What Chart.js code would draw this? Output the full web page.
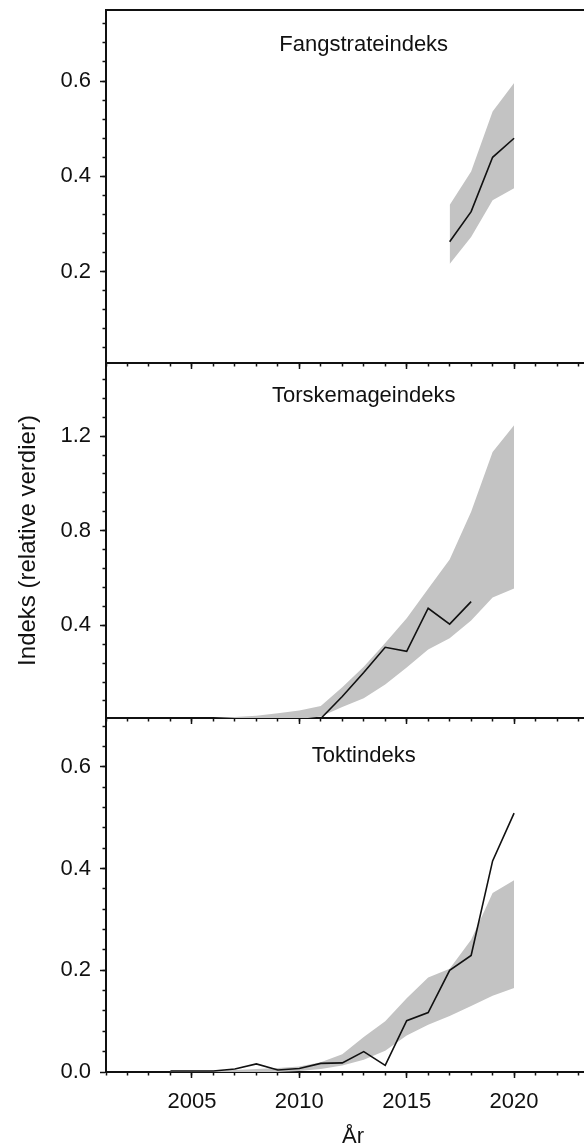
<!DOCTYPE html>
<html lang="no">
<head>
<meta charset="utf-8">
<title>Indeks (relative verdier)</title>
<script src="https://cdn.jsdelivr.net/npm/chart.js@4.4.1/dist/chart.umd.min.js"></script>
<style>
  html, body { margin: 0; padding: 0; background: #fff; overflow: hidden; }
  #wrap { position: relative; width: 584px; height: 1144px; overflow: hidden; }
  #wrap canvas { position: absolute; left: 0; top: 0; }
</style>
</head>
<body>
<div id="wrap">
  <canvas id="p-fang" width="600" height="1160"></canvas>
  <canvas id="p-torsk" width="600" height="1160"></canvas>
  <canvas id="p-tokt" width="600" height="1160"></canvas>
</div>
<script>
// Three stacked index panels, shared year axis.

const FONT = "'Liberation Sans', Arial, sans-serif";
const INK = '#111';
const BAND = '#c3c3c3';
const CANVAS_H = 1160;

const X_MIN = 2001, X_MAX = 2024;
const xLabelTicks = [2005, 2010, 2015, 2020];

// Fangstrateindeks
const fangYears = [2017, 2018, 2019, 2020];
const fangIndex = [0.263, 0.326, 0.44, 0.48];
const fangLow   = [0.216, 0.273, 0.35, 0.375];
const fangHigh  = [0.34, 0.41, 0.536, 0.596];
const fangYTicks = [0.2, 0.4, 0.6];

// Torskemageindeks
const torskYears = [2009, 2010, 2011, 2012, 2013, 2014, 2015, 2016, 2017, 2018];
const torskIndex = [0.003, 0.005, 0.006, 0.099, 0.2, 0.307, 0.29, 0.472, 0.405, 0.5];
const torskBandYears = [2006, 2007, 2008, 2009, 2010, 2011, 2012, 2013, 2014, 2015, 2016, 2017, 2018, 2019, 2020];
const torskLow  = [0, 0, 0, 0.001, 0.004, 0.014, 0.054, 0.092, 0.15, 0.222, 0.298, 0.345, 0.42, 0.518, 0.556];
const torskHigh = [0.008, 0.012, 0.018, 0.028, 0.04, 0.059, 0.138, 0.225, 0.325, 0.43, 0.555, 0.678, 0.88, 1.133, 1.246];
const torskYTicks = [0.4, 0.8, 1.2];

// Toktindeks
const toktYears = [2004, 2005, 2006, 2007, 2008, 2009, 2010, 2011, 2012, 2013, 2014, 2015, 2016, 2017, 2018, 2019, 2020];
const toktIndex = [0.002, 0.002, 0.002, 0.006, 0.016, 0.004, 0.007, 0.017, 0.018, 0.04, 0.013, 0.101, 0.117, 0.2, 0.229, 0.415, 0.509];
const toktLow   = [0, 0, 0, 0, 0, 0, 0.002, 0.006, 0.013, 0.024, 0.042, 0.072, 0.093, 0.11, 0.13, 0.15, 0.165];
const toktHigh  = [0.003, 0.003, 0.003, 0.004, 0.006, 0.008, 0.011, 0.019, 0.035, 0.069, 0.1, 0.145, 0.186, 0.203, 0.26, 0.352, 0.377];
const toktYTicks = [0, 0.2, 0.4, 0.6];

const panels = [
  { id: 'p-fang', title: 'Fangstrateindeks', top: 10, bottom: 363, titleDy: 40.5,
    yMin: 0.0085, yMax: 0.749, yTicks: fangYTicks, yMinorStep: 0.04,
    years: fangYears, index: fangIndex, bandYears: fangYears, low: fangLow, high: fangHigh,
    topBorder: true },
  { id: 'p-torsk', title: 'Torskemageindeks', top: 363, bottom: 718, titleDy: 38.5,
    yMin: 0.008, yMax: 1.509, yTicks: torskYTicks, yMinorStep: 0.08,
    years: torskYears, index: torskIndex, bandYears: torskBandYears, low: torskLow, high: torskHigh,
    yTitle: 'Indeks (relative verdier)' },
  { id: 'p-tokt', title: 'Toktindeks', top: 718, bottom: 1072, titleDy: 44,
    yMin: 0, yMax: 0.696, yTicks: toktYTicks, yMinorStep: 0.04,
    years: toktYears, index: toktIndex, bandYears: toktYears, low: toktLow, high: toktHigh,
    xTitle: 'År' },
];

// panel name written inside the plot box
const panelTitle = {
  id: 'panelTitle',
  afterDraw(chart, args, opts) {
    const { ctx, chartArea, scales } = chart;
    ctx.save();
    ctx.font = `22px ${FONT}`;
    ctx.fillStyle = INK;
    ctx.textAlign = 'center';
    ctx.textBaseline = 'alphabetic';
    ctx.fillText(opts.text, scales.x.getPixelForValue(opts.atYear), chartArea.top + opts.dy);
    ctx.restore();
  },
};

const pts = (xs, ys) => xs.map((x, i) => ({ x, y: ys[i] }));

function minorTicks(min, max, step) {
  const out = [];
  for (let k = Math.ceil(min / step - 1e-9); k * step <= max + 1e-9; k++) {
    if (k * step > min + 1e-9) out.push({ value: +(k * step).toFixed(4) });
  }
  return out;
}

// fixed box sizes; drop the label overhang padding so the plot boxes line up
function fixBox(w, h) {
  return s => {
    if (w != null) s.width = w;
    if (h != null) s.height = h;
    s.paddingTop = s.paddingBottom = s.paddingLeft = s.paddingRight = 0;
  };
}

const tickFont = { family: FONT, size: 22 };
const tickMark = { tickColor: INK, tickWidth: 1.5, drawOnChartArea: false };

function makePanel(p) {
  const scales = {
    x: {
      type: 'linear', position: 'bottom', weight: 1, min: X_MIN, max: X_MAX,
      afterFit: fixBox(null, CANVAS_H - p.bottom),
      afterBuildTicks: s => { s.ticks = xLabelTicks.map(v => ({ value: v })); },
      grid: { ...tickMark, tickLength: 6 },
      border: { color: INK, width: 2 },
      ticks: { display: !!p.xTitle, autoSkip: false, maxRotation: 0, padding: 11,
               color: INK, font: tickFont, callback: v => String(v) },
      title: { display: !!p.xTitle, text: p.xTitle || '', color: INK,
               font: { family: FONT, size: 22 }, padding: { top: 0, bottom: 10 } },
    },
    xMinor: {
      type: 'linear', position: 'bottom', weight: 0, min: X_MIN, max: X_MAX,
      afterFit: fixBox(null, 0),
      afterBuildTicks: s => { s.ticks = minorTicks(X_MIN - 1, X_MAX, 1); },
      grid: { ...tickMark, tickLength: 3.5 },
      border: { display: false },
      ticks: { display: false, autoSkip: false },
    },
    y: {
      type: 'linear', position: 'left', weight: 1, min: p.yMin, max: p.yMax,
      afterFit: fixBox(106, null),
      afterBuildTicks: s => { s.ticks = p.yTicks.map(v => ({ value: v })); },
      grid: { ...tickMark, tickLength: 6 },
      border: { color: INK, width: 2 },
      ticks: { padding: 9, color: INK, font: tickFont, autoSkip: false, callback: v => v.toFixed(1) },
      title: { display: !!p.yTitle, text: p.yTitle || '', color: INK,
               font: { family: FONT, size: 24 }, padding: { top: 13.6, bottom: 0 } },
    },
    yMinor: {
      type: 'linear', position: 'left', weight: 0, min: p.yMin, max: p.yMax,
      afterFit: fixBox(0, null),
      afterBuildTicks: s => { s.ticks = minorTicks(p.yMin, p.yMax, p.yMinorStep); },
      grid: { ...tickMark, tickLength: 3.5 },
      border: { display: false },
      ticks: { display: false, autoSkip: false },
    },
  };
  if (p.topBorder) {
    scales.xTop = {
      type: 'linear', position: 'top', min: X_MIN, max: X_MAX,
      afterFit: fixBox(null, 0),
      grid: { drawOnChartArea: false, drawTicks: false },
      border: { color: INK, width: 2 },
      ticks: { display: false },
    };
  }

  return new Chart(document.getElementById(p.id), {
    type: 'line',
    data: { datasets: [
      { data: pts(p.years, p.index), xAxisID: 'x', yAxisID: 'y',
        borderColor: INK, borderWidth: 1.6, pointRadius: 0, tension: 0, fill: false },
      { data: pts(p.bandYears, p.high), xAxisID: 'x', yAxisID: 'y',
        borderColor: 'rgba(0,0,0,0)', borderWidth: 0, pointRadius: 0, tension: 0,
        fill: '+1', backgroundColor: BAND },
      { data: pts(p.bandYears, p.low), xAxisID: 'x', yAxisID: 'y',
        borderColor: 'rgba(0,0,0,0)', borderWidth: 0, pointRadius: 0, tension: 0, fill: false },
    ]},
    options: {
      responsive: false,
      animation: false,
      events: [],
      layout: { padding: { top: p.top, left: 0, right: 0, bottom: 0 } },
      scales,
      plugins: {
        legend: { display: false },
        tooltip: { enabled: false },
        panelTitle: { text: p.title, atYear: 2013, dy: p.titleDy },
      },
    },
    plugins: [panelTitle],
  });
}

panels.forEach(makePanel);
</script>
</body>
</html>
